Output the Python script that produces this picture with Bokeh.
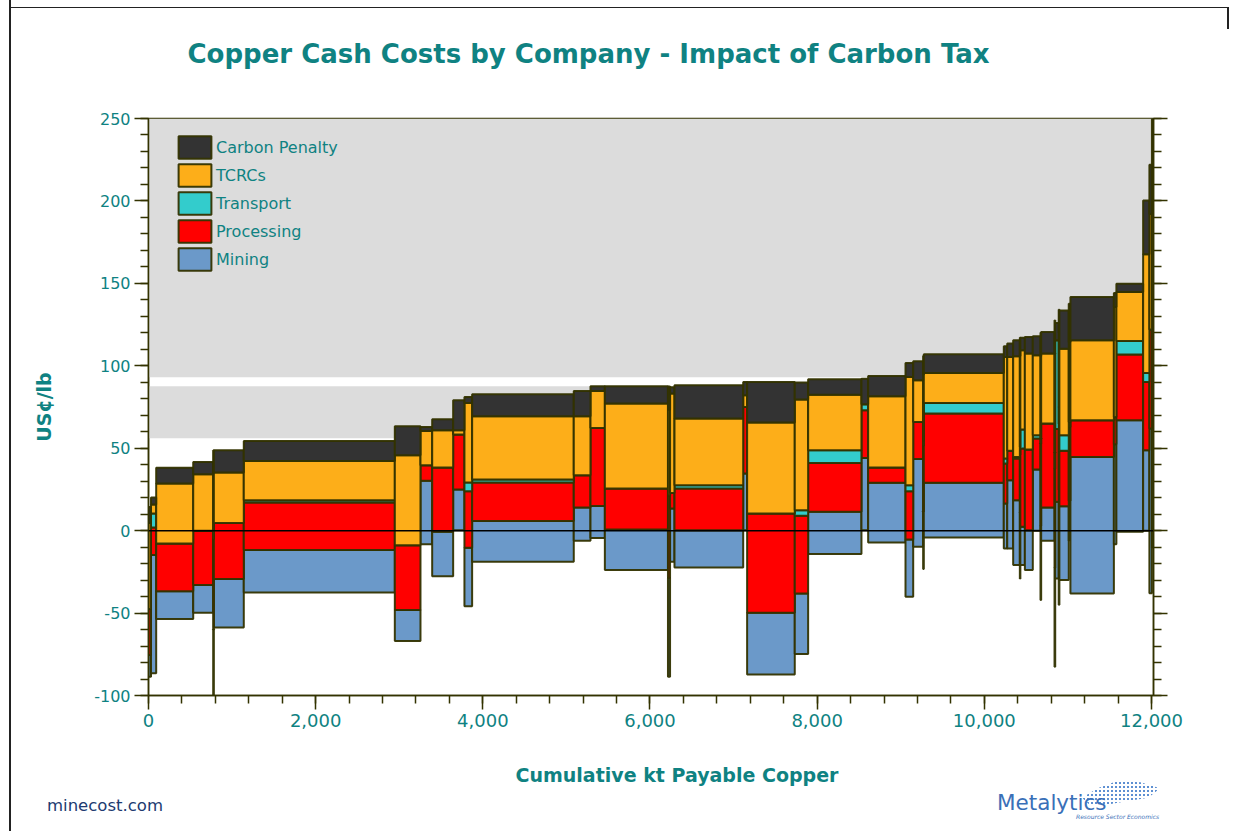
import numpy as np
from bokeh.plotting import figure
from bokeh.layouts import column
from bokeh.models import (ColumnDataSource, Range1d, LinearAxis, Legend, LegendItem,
                          NumeralTickFormatter, FixedTicker, Span, Div)
from bokeh.core.properties import value
from bokeh.embed import file_html
from bokeh.resources import INLINE

# ---------------- data (kt payable copper, US c/lb) ----------------
widths = [30, 62, 443, 239, 8, 358, 1807, 307, 140, 251, 135, 92, 1216, 200, 172, 755,
          25, 53, 822, 47, 570, 160, 638, 80, 447, 92, 119, 8, 957, 41, 71, 80, 6, 54,
          95, 92, 8, 160, 8, 42, 8, 112, 20, 520, 30, 320, 75, 30, 15]
credits = [-88.6, -86.5, -53.6, -49.8, -105, -58.7, -37.5, -67, -8.2, -27.6, 0.3, -45.8,
           -18.9, -6.2, -4.4, -23.9, -88.6, -18.9, -22.3, 0.3, -87.2, -74.8, -14.2, 0.3,
           -7.2, -40.1, -9.8, -23.3, -4.1, -10.8, -10.8, -20.9, -29, -20.9, -23.9, 0,
           -42, -6.2, -82.5, -29, -45, -30, -5.8, -38.1, -8.2, -0.7, 0, -38, -10]
mining = [13.1, 71.7, 16.9, 16.8, 45, 29.3, 25.7, 18.8, 38.4, 26.9, 24.7, 35.4, 24.8,
          20.3, 19.4, 24.6, 60, 32.4, 22.6, 34.4, 37.4, 36.7, 25.6, 43.8, 36.2, 34.8,
          53.3, 35, 33.1, 27.3, 41.4, 39.4, 40, 23.2, 24.2, 37.1, 45, 20.3, 60, 46.5,
          70, 44.8, 24.3, 82.8, 60.6, 67.7, 48.8, 100, 80]
processing = [27.9, 16.7, 28.9, 32.9, 55, 34.1, 28.9, 39.4, 9.5, 39, 33.3, 34.3, 23.3,
              19.5, 47.3, 24.9, 50, 9.4, 25.3, 40.3, 60.2, 47.1, 29.7, 28.9, 9.3, 29.2,
              22.4, 40, 42, 24.2, 17.8, 25.3, 35, 47.5, 48.9, 18.8, 50, 50.9, 60, 44.2,
              40, 33.6, 44.4, 22.3, 16.6, 39.8, 41.4, 60, 60]
transport = [0, 8.5, 0, 0, 0, 0, 1.4, 0, 0, 0, 0, 5.3, 1.8, 0, 0, 0, 0, 0, 2, 0, 0, 3.4,
             7.7, 3.7, 0, 3.7, 0, 3, 6.5, 3.1, 0, 0.9, 5, 11.5, 0, 2, 3, 0, 10, 53.8, 10,
             9.5, 3, 0, 0, 8.2, 5.4, 0, 0]
tcrcs = [52.3, 5.5, 36.4, 34.3, 40, 30.6, 23.8, 54.6, 20.8, 22.6, 2.6, 48.3, 38.4, 35.8,
         22.4, 51.5, 52, 60.3, 40.4, 7.1, 55.2, 67.1, 33.7, 0, 43.2, 65.6, 25.3, 40,
         18.1, 61.5, 56.9, 61.1, 55, 48.1, 58.2, 48.5, 50, 42.4, 60, 0, 45, 52.5, 48.5,
         48.5, 66.6, 29.7, 72, 70, 90]
carbon = [9.7, 4.2, 9.5, 7.5, 13.6, 13.5, 12.1, 17.5, 2.4, 6.7, 18.2, 3.6, 13.3, 15.3,
          2.9, 10.5, 14, 3.8, 20.2, 8.1, 24.6, 10.3, 9.3, 15.5, 12.3, 8.5, 11.5, 11.3,
          11.4, 6.5, 8.2, 9.7, 11, 7.6, 10, 11.5, 14, 13.1, 20, 10.5, 14, 23.2, 23.3,
          26.2, 8.5, 5.1, 32.6, 30, 40]

components = ["Mining", "Processing", "Transport", "TCRCs", "Carbon Penalty"]
series = [mining, processing, transport, tcrcs, carbon]
colors = ["#6b99c9", "#ff0000", "#33cccc", "#fdae19", "#333333"]

x_ticks = [0, 2000, 4000, 6000, 8000, 10000, 12000]
y_ticks = [-100, -50, 0, 50, 100, 150, 200, 250]

TITLE = "Copper Cash Costs by Company - Impact of Carbon Tax"
XLABEL = "Cumulative kt Payable Copper"
YLABEL = "US¢/lb"

TEAL = "#0f8282"
OLIVE = "#333300"
FONT = "DejaVu Sans"
W = 1230

# ---------------- header (frame aligned with main frame: page px 148..1153) ----------------
head = figure(width=W, height=100, x_range=Range1d(148, 1153), y_range=Range1d(100, 0),
              output_backend="svg", toolbar_location=None, min_border=0,
              x_axis_location=None, y_axis_location=None)
head.outline_line_color = None
head.xgrid.visible = False
head.ygrid.visible = False
head.text(x=[187], y=[53], text=[TITLE], text_font=value(FONT), text_font_style="bold",
          text_font_size="26px", text_color=TEAL, text_align="left", text_baseline="middle")

# ---------------- main chart ----------------
w = np.array(widths, dtype=float)
right = np.cumsum(w)
left = right - w
base = np.array(credits, dtype=float)

p = figure(width=W, height=660, x_range=Range1d(0, 12024), y_range=Range1d(-100, 250),
           output_backend="svg", toolbar_location=None,
           min_border_left=148, min_border_right=77, min_border_top=18, min_border_bottom=65)
p.background_fill_color = "white"
p.border_fill_color = "white"
p.outline_line_color = OLIVE
p.outline_line_width = 1.5
p.xgrid.visible = False
p.ygrid.visible = False

# grey background bands
p.quad(left=[0, 0], right=[12024, 12024], bottom=[93, 56], top=[250, 87.6],
       fill_color="#dcdcdc", line_color=None)

renderers = {}
bottom = base.copy()
for name, vals, col in zip(components, series, colors):
    v = np.array(vals, dtype=float)
    top = bottom + v
    src = ColumnDataSource(dict(left=left, right=right, bottom=bottom, top=top))
    r = p.quad(left="left", right="right", bottom="bottom", top="top", source=src,
               fill_color=col, line_color=OLIVE, line_width=2, line_alpha=0.95)
    renderers[name] = r
    bottom = top

p.add_layout(Span(location=0, dimension="width", line_color="black", line_width=1.5))


def style_axis(ax, labels=True, size="17px"):
    ax.axis_line_color = OLIVE
    ax.axis_line_width = 1.5
    ax.major_tick_line_color = OLIVE
    ax.minor_tick_line_color = OLIVE
    ax.major_tick_line_width = 1.5
    ax.minor_tick_line_width = 1.5
    ax.major_tick_out = 14
    ax.major_tick_in = 0
    ax.minor_tick_out = 8
    ax.minor_tick_in = 0
    ax.major_label_text_color = TEAL if labels else None
    ax.major_label_text_font = FONT
    ax.major_label_text_font_size = size
    ax.major_label_standoff = 4


p.xaxis.ticker = FixedTicker(ticks=x_ticks, minor_ticks=list(range(0, 12001, 400)))
p.xaxis.formatter = NumeralTickFormatter(format="0,0")
p.yaxis.ticker = FixedTicker(ticks=y_ticks, minor_ticks=list(range(-100, 251, 10)))
p.yaxis.formatter = NumeralTickFormatter(format="0")
style_axis(p.xaxis[0], size="18px")
style_axis(p.yaxis[0], size="16px")
p.yaxis.axis_label = YLABEL
p.yaxis.axis_label_text_font = FONT
p.yaxis.axis_label_text_font_style = "bold"
p.yaxis.axis_label_text_font_size = "19px"
p.yaxis.axis_label_text_color = TEAL
p.yaxis.axis_label_standoff = 36

ra = LinearAxis(ticker=FixedTicker(ticks=y_ticks, minor_ticks=list(range(-100, 251, 10))))
style_axis(ra, labels=False)
p.add_layout(ra, "right")

order = ["Carbon Penalty", "TCRCs", "Transport", "Processing", "Mining"]
legend = Legend(items=[LegendItem(label=n, renderers=[renderers[n]]) for n in order],
                location=(26, 422), glyph_width=41, glyph_height=28, spacing=0,
                padding=0, margin=0, border_line_color=None, background_fill_alpha=0,
                label_text_color=TEAL, label_text_font=FONT,
                label_text_font_size="16px", label_standoff=1, label_height=28)
p.add_layout(legend, "center")

# ---------------- footer (texts, logo dots and the page frame lines) ----------------
foot_html = (
    '<div style="position:relative; width:1230px; height:66px; font-family:\'DejaVu Sans\';">'
    f'<span style="position:absolute; left:672px; top:-2px; transform:translateX(-50%); '
    f'white-space:nowrap; font-size:19px; line-height:24px; font-weight:bold; color:{TEAL};">'
    f'{XLABEL}</span>'
    '<span style="position:absolute; left:42px; top:31px; white-space:nowrap; '
    'font-size:16.5px; line-height:20px; color:#203a70;">minecost.com</span>'
    '<div style="position:absolute; left:1077px; top:16px; width:78px; height:24px; '
    'background-image:radial-gradient(circle, #5d8fd2 1.1px, transparent 1.4px); '
    'background-size:4px 4px; clip-path:polygon(0% 70%, 20% 30%, 45% 0%, 75% 5%, 100% 30%, '
    '85% 70%, 55% 85%, 30% 100%, 10% 100%);"></div>'
    '<span style="position:absolute; left:992px; top:25px; white-space:nowrap; '
    'font-size:21.5px; line-height:26px; color:#3a70b8;">Metalytics</span>'
    '<span style="position:absolute; left:1071px; top:48px; white-space:nowrap; '
    'font-size:6px; line-height:8px; font-style:italic; color:#3a70b8;">'
    'Resource Sector Economics</span>'
    '<div style="position:absolute; left:4px; top:-766px; width:2px; height:832px; '
    'background:#222;"></div>'
    '<div style="position:absolute; left:4px; top:-758px; width:1220px; height:1px; '
    'background:#222;"></div>'
    '<div style="position:absolute; left:1222px; top:-758px; width:2px; height:22px; '
    'background:#222;"></div>'
    '</div>'
)
foot = Div(text=foot_html, width=W, height=66)

layout = column(head, p, foot, spacing=0)
open("out.html", "w").write(file_html(layout, INLINE))
